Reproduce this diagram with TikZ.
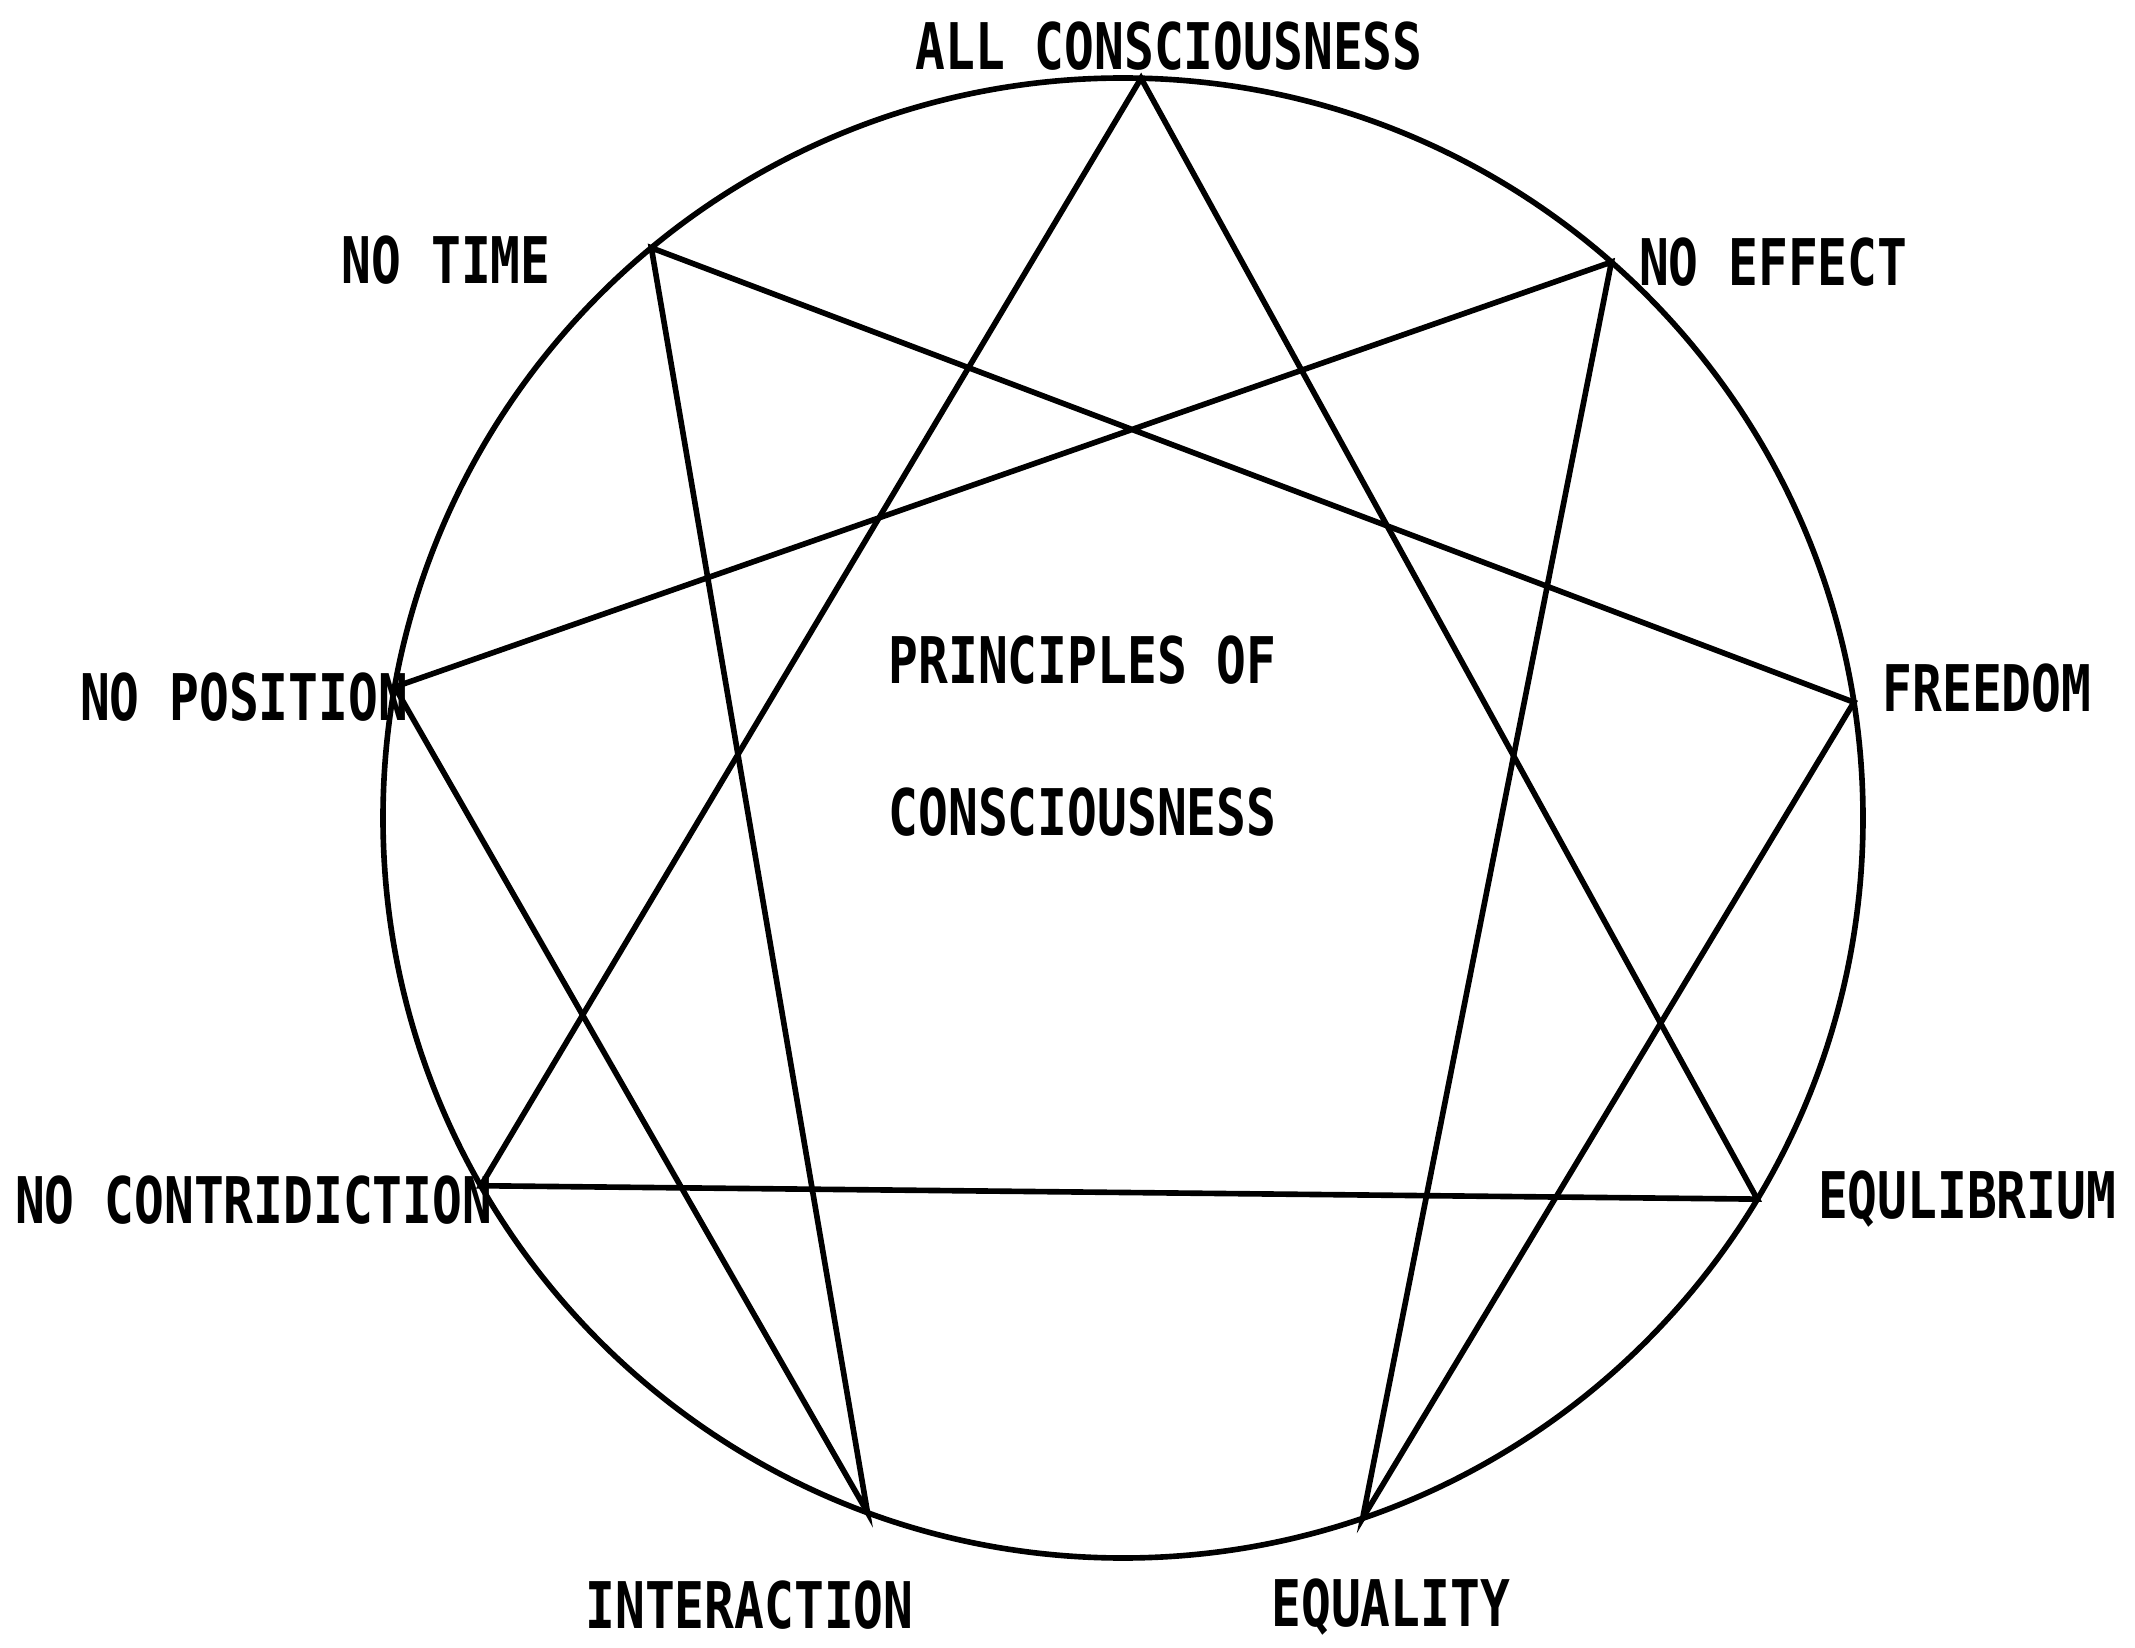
\documentclass[tikz,border=0pt]{standalone}
\usepackage{fontspec}
\usepackage{tikz}
\usetikzlibrary{positioning,calc}
\newfontfamily\labelfont[FakeStretch=0.77]{DejaVu Sans Mono}

\begin{document}
\begin{tikzpicture}[
  lbl/.style={inner sep=0pt, font=\labelfont\bfseries\fontsize{18.3}{20}\selectfont},
  line/.style={line width=1.6pt, black},
]
\useasboundingbox (0,0) rectangle (21.35,16.47);
\coordinate (c) at (11.23,8.29);

% Circle
\draw[line] (c) circle (7.4);

% Points on the circle
\coordinate (allc)   at ($(c)+(88.6:7.4)$);
\coordinate (noeff)  at ($(c)+(48.7:7.4)$);
\coordinate (freed)  at ($(c)+(9.0:7.4)$);
\coordinate (equil)  at ($(c)+(-31.0:7.4)$);
\coordinate (equal)  at ($(c)+(-71.1:7.4)$);
\coordinate (inter)  at ($(c)+(-110.2:7.4)$);
\coordinate (nocon)  at ($(c)+(-150.2:7.4)$);
\coordinate (nopos)  at ($(c)+(169.8:7.4)$);
\coordinate (notime) at ($(c)+(129.6:7.4)$);

% Labels
\node[lbl, above=0.07cm of allc, xshift=0.28cm] (allcl) {ALL CONSCIOUSNESS};
\node[lbl, right=0.27cm of noeff] (noeffl) {NO EFFECT};
\node[lbl, right=0.28cm of freed, yshift=0.14cm] (freedl) {FREEDOM};
\node[lbl, right=0.6cm of equil] (equill) {EQULIBRIUM};
\node[lbl, below=0.6cm of equal, xshift=0.28cm] (equall) {EQUALITY};
\node[lbl, below=0.68cm of inter, xshift=-1.18cm] (interl) {INTERACTION};
\node[lbl, left=-0.12cm of nocon, yshift=-0.14cm] (noconl) {NO CONTRIDICTION};
\node[lbl, left=-0.14cm of nopos, yshift=-0.1cm] (noposl) {NO POSITION};
\node[lbl, left=1.0cm of notime, yshift=-0.12cm] (notimel) {NO TIME};

% Title
\node[lbl, anchor=west] (title1) at ($(c)+(-2.35,1.58)$) {PRINCIPLES OF};
\node[lbl, below right=1.02cm and 0cm of title1.south west] (title2) {CONSCIOUSNESS};

% Triangle
\draw[line] (allc) -- (equil) -- (nocon) -- cycle;

% Hexad
\draw[line] (noeff) -- (equal) -- (freed) -- (notime) -- (inter) -- (nopos) -- cycle;
\end{tikzpicture}
\end{document}
